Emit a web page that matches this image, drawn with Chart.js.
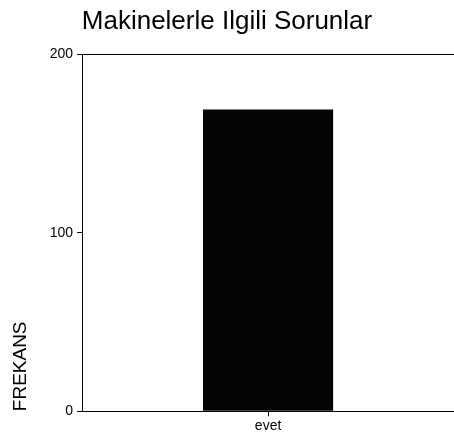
<!DOCTYPE html>
<html>
<head>
<meta charset="utf-8">
<script src="https://cdn.jsdelivr.net/npm/chart.js@4"></script>
<style>
  html, body { margin: 0; padding: 0; background: #fff; }
  #wrap { width: 454px; height: 438px; }
</style>
</head>
<body>
<div id="wrap"><canvas id="chart"></canvas></div>
<script>
// Dados do gráfico
const categories = ["evet"];
const frequencies = [169];
const yTicks = [0, 100, 200];

const ctx = document.getElementById("chart").getContext("2d");
new Chart(ctx, {
  type: "bar",
  data: {
    labels: categories,
    datasets: [
      {
        data: frequencies,
        backgroundColor: "#040404",
        borderWidth: 0,
        categoryPercentage: 1,
        barPercentage: 0.35,
      },
    ],
  },
  options: {
    responsive: true,
    maintainAspectRatio: false,
    animation: false,
    layout: { padding: { left: 0, right: 0, top: 0, bottom: 1 } },
    plugins: {
      legend: { display: false },
      tooltip: { enabled: false },
      title: {
        display: true,
        text: "Makinelerle Ilgili Sorunlar",
        color: "#000",
        font: { family: "Liberation Sans", size: 26, weight: "normal" },
        padding: { top: 6, bottom: 17 },
      },
    },
    scales: {
      x: {
        border: { display: true, color: "#000", width: 1 },
        grid: {
          offset: false,
          drawOnChartArea: false,
          drawTicks: true,
          tickLength: 5,
          color: "#000",
        },
        ticks: {
          color: "#000",
          padding: 2,
          font: { family: "Liberation Sans", size: 14 },
        },
      },
      y: {
        min: yTicks[0],
        max: yTicks[yTicks.length - 1],
        afterBuildTicks: (axis) => {
          axis.ticks = yTicks.map((v) => ({ value: v }));
        },
        border: { display: true, color: "#000", width: 1 },
        grid: {
          // só a linha do topo (200) aparece dentro da área
          color: (c) => (c.tick && c.tick.value === 200 ? "#000" : "rgba(0,0,0,0)"),
          tickColor: "#000",
          tickLength: 5,
        },
        ticks: {
          color: "#000",
          padding: 4,
          font: { family: "Liberation Sans", size: 14 },
        },
        title: {
          display: true,
          text: "FREKANS",
          align: "start",
          color: "#000",
          font: { family: "Liberation Sans", size: 19 },
          padding: { top: 9, bottom: 14 },
        },
      },
    },
  },
});
</script>
</body>
</html>
